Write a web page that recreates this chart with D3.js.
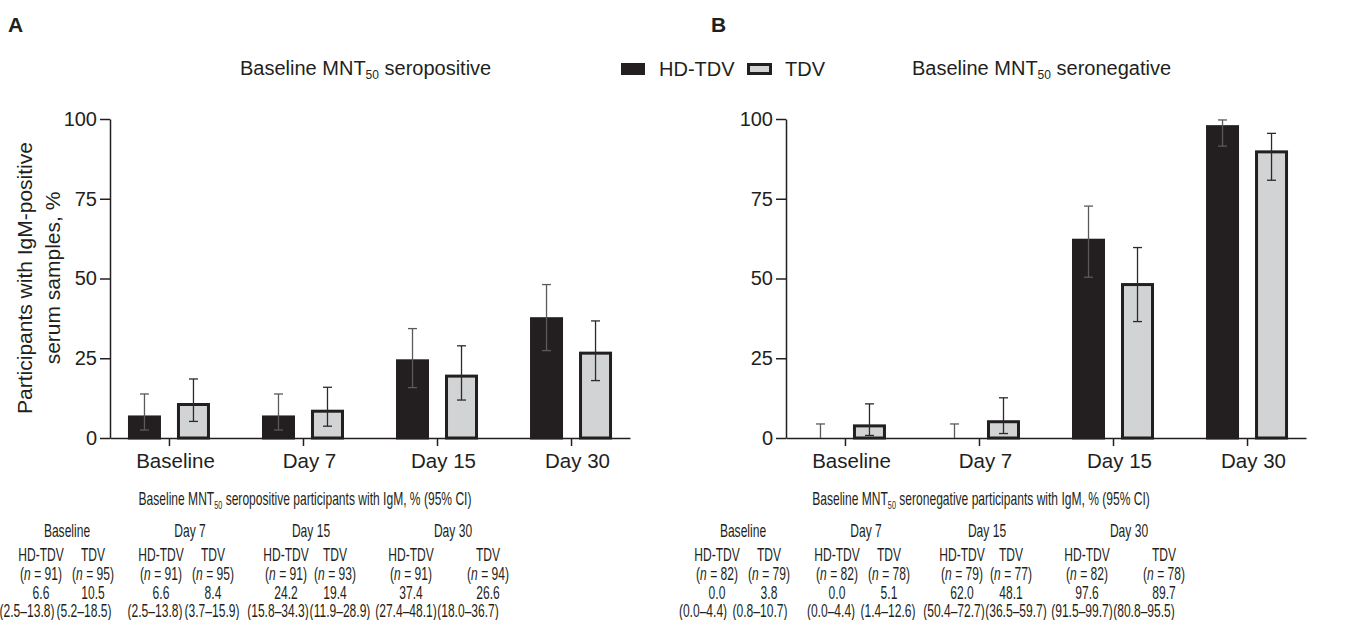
<!DOCTYPE html>
<html>
<head>
<meta charset="utf-8">
<script src="https://cdn.jsdelivr.net/npm/d3@7/dist/d3.min.js"></script>
<style>
  body { margin: 0; background: #fff; }
  svg { font-family: "Liberation Sans", Arial, sans-serif; fill: #231f20; }
  .axis path, .axis line { stroke: #231f20; stroke-width: 1.5; }
  .axis text { font-size: 20px; fill: #231f20; }
</style>
</head>
<body>
<script>
var categories = ["Baseline", "Day 7", "Day 15", "Day 30"];
var yTicks = [0, 25, 50, 75, 100];

// seropositive panel (A)
var posHD = [6.6, 6.6, 24.2, 37.4];
var posHDLow = [2.5, 2.5, 15.8, 27.4];
var posHDHigh = [13.8, 13.8, 34.3, 48.1];
var posHDn = [91, 91, 91, 91];
var posTDV = [10.5, 8.4, 19.4, 26.6];
var posTDVLow = [5.2, 3.7, 11.9, 18.0];
var posTDVHigh = [18.5, 15.9, 28.9, 36.7];
var posTDVn = [95, 95, 93, 94];

// seronegative panel (B)
var negHD = [0.0, 0.0, 62.0, 97.6];
var negHDLow = [0.0, 0.0, 50.4, 91.5];
var negHDHigh = [4.4, 4.4, 72.7, 99.7];
var negHDn = [82, 82, 79, 82];
var negTDV = [3.8, 5.1, 48.1, 89.7];
var negTDVLow = [0.8, 1.4, 36.5, 80.8];
var negTDVHigh = [10.7, 12.6, 59.7, 95.5];
var negTDVn = [79, 78, 77, 78];

var svgWidth = 1359;
var svgHeight = 620;
var ink = "#231f20";
var grey = "#d1d3d4";

var svg = d3.select("body")
  .append("svg")
  .attr("width", svgWidth)
  .attr("height", svgHeight);

var plotW = 520;
var yScale = d3.scaleLinear().domain([0, 100]).range([438, 119]);
var xScale = d3.scalePoint().domain(categories).range([0, plotW]).padding(0.44);

var barW = 30;     // inner width, stroke adds to 33
var barShift = 24.5;

function fmt(v) { return v.toFixed(1); }

function drawPanel(x0, hd, hdLo, hdHi, tdv, tdvLo, tdvHi, showYLabel) {
  var g = svg.append("g").attr("transform", `translate(${x0}, 0)`);

  // axes
  g.append("g")
    .attr("class", "axis")
    .call(d3.axisLeft(yScale).tickValues(yTicks).tickSize(10).tickSizeOuter(0).tickPadding(3));

  g.append("g")
    .attr("class", "axis")
    .attr("transform", `translate(0, ${yScale(0)})`)
    .call(d3.axisBottom(xScale).tickSize(8).tickSizeOuter(0).tickPadding(7))
    .selectAll("text")
    .attr("dx", 6)
    .style("font-size", "20.5px");

  var rows = categories.map(function(c, i) {
    return { cat: c, hd: hd[i], hdLo: hdLo[i], hdHi: hdHi[i], tdv: tdv[i], tdvLo: tdvLo[i], tdvHi: tdvHi[i] };
  });

  // HD-TDV bars
  g.selectAll(".hd-bar")
    .data(rows)
    .enter()
    .append("rect")
    .attr("class", "hd-bar")
    .attr("x", d => xScale(d.cat) - barShift - barW / 2)
    .attr("y", d => yScale(d.hd))
    .attr("width", barW)
    .attr("height", d => yScale(0) - yScale(d.hd))
    .attr("fill", ink)
    .attr("stroke", d => d.hd > 0 ? ink : "none")
    .attr("stroke-width", 3);

  // TDV bars
  g.selectAll(".tdv-bar")
    .data(rows)
    .enter()
    .append("rect")
    .attr("class", "tdv-bar")
    .attr("x", d => xScale(d.cat) + barShift - barW / 2)
    .attr("y", d => yScale(d.tdv))
    .attr("width", barW)
    .attr("height", d => yScale(0) - yScale(d.tdv))
    .attr("fill", grey)
    .attr("stroke", ink)
    .attr("stroke-width", 3);

  // error bars
  function errorBars(cls, shift, lo, hi, colour) {
    var eb = g.selectAll("." + cls)
      .data(rows)
      .enter()
      .append("g")
      .attr("class", cls)
      .attr("stroke", colour)
      .attr("stroke-width", 1.3);
    eb.append("line")
      .attr("x1", d => xScale(d.cat) + shift)
      .attr("x2", d => xScale(d.cat) + shift)
      .attr("y1", d => yScale(d[lo]))
      .attr("y2", d => yScale(d[hi]));
    eb.append("line")
      .attr("x1", d => xScale(d.cat) + shift - 4.5)
      .attr("x2", d => xScale(d.cat) + shift + 4.5)
      .attr("y1", d => yScale(d[hi]))
      .attr("y2", d => yScale(d[hi]));
    eb.filter(d => d[lo] > 0).append("line")
      .attr("x1", d => xScale(d.cat) + shift - 4.5)
      .attr("x2", d => xScale(d.cat) + shift + 4.5)
      .attr("y1", d => yScale(d[lo]))
      .attr("y2", d => yScale(d[lo]));
  }
  errorBars("hd-err", -barShift, "hdLo", "hdHi", "#5a5a5a");
  errorBars("tdv-err", barShift, "tdvLo", "tdvHi", "#2a2a2a");

  if (showYLabel) {
    var yl = svg.append("text")
      .attr("transform", "rotate(-90)")
      .attr("text-anchor", "middle")
      .style("font-size", "21px")
      .attr("fill", ink);
    yl.append("tspan").attr("x", -278).attr("y", 32).text("Participants with IgM-positive");
    yl.append("tspan").attr("x", -278).attr("y", 60).text("serum samples, %");
  }
}

drawPanel(110, posHD, posHDLow, posHDHigh, posTDV, posTDVLow, posTDVHigh, true);
drawPanel(786, negHD, negHDLow, negHDHigh, negTDV, negTDVLow, negTDVHigh, false);

// panel letters
svg.append("text").attr("x", 8).attr("y", 32).style("font-size", "21px").style("font-weight", "bold").attr("fill", ink).text("A");
svg.append("text").attr("x", 711).attr("y", 32).style("font-size", "21px").style("font-weight", "bold").attr("fill", ink).text("B");

// panel titles with MNT50 subscript
function subTitle(x, y, size, before, after, anchor, sx) {
  var t = svg.append("text")
    .attr("transform", `translate(${x}, ${y}) scale(${sx || 1}, 1)`)
    .attr("text-anchor", anchor || "start")
    .style("font-size", size + "px")
    .attr("fill", ink);
  t.append("tspan").text(before);
  t.append("tspan").attr("dy", size * 0.22).style("font-size", (size * 0.6) + "px").text("50");
  t.append("tspan").attr("dy", -size * 0.22).text(after);
  return t;
}
subTitle(240, 75, 20, "Baseline MNT", " seropositive");
subTitle(912, 75, 20, "Baseline MNT", " seronegative");

// legend
var legend = svg.append("g");
legend.append("rect").attr("x", 621).attr("y", 63).attr("width", 24).attr("height", 12).attr("fill", ink);
legend.append("text").attr("x", 659).attr("y", 76).style("font-size", "20px").attr("fill", ink).text("HD-TDV");
legend.append("rect").attr("x", 748.5).attr("y", 64.5).attr("width", 22).attr("height", 9).attr("fill", grey).attr("stroke", ink).attr("stroke-width", 3);
legend.append("text").attr("x", 785).attr("y", 76).style("font-size", "20px").attr("fill", ink).text("TDV");

// tables underneath
var tableSX = 0.67;
var tableFont = 18;
var groupX = [67, 190, 311, 453];
var hdColX = [41, 161, 286, 411];
var tdvColX = [93, 213, 335, 488];
var hdCiX = [27, 155, 278, 406];
var tdvCiX = [84, 212, 340, 468];
var rowY = { title: 505, group: 537, arm: 561, n: 580, value: 599, ci: 617 };

function cell(x, y, str) {
  return svg.append("text")
    .attr("transform", `translate(${x}, ${y}) scale(${tableSX}, 1)`)
    .attr("text-anchor", "middle")
    .style("font-size", tableFont + "px")
    .attr("fill", ink)
    .text(str);
}
function nCell(x, y, n) {
  var t = svg.append("text")
    .attr("transform", `translate(${x}, ${y}) scale(${tableSX}, 1)`)
    .attr("text-anchor", "middle")
    .style("font-size", tableFont + "px")
    .attr("fill", ink);
  t.append("tspan").text("(");
  t.append("tspan").style("font-style", "italic").text("n");
  t.append("tspan").text(" = " + n + ")");
}

function drawTable(dx, label, hd, hdLo, hdHi, hdN, tdv, tdvLo, tdvHi, tdvN) {
  subTitle(dx + 305, rowY.title, tableFont, "Baseline MNT", " " + label + " participants with IgM, % (95% CI)", "middle", tableSX);
  categories.forEach(function(c, i) {
    cell(dx + groupX[i], rowY.group, c);
    cell(dx + hdColX[i], rowY.arm, "HD-TDV");
    cell(dx + tdvColX[i], rowY.arm, "TDV");
    nCell(dx + hdColX[i], rowY.n, hdN[i]);
    nCell(dx + tdvColX[i], rowY.n, tdvN[i]);
    cell(dx + hdColX[i], rowY.value, fmt(hd[i]));
    cell(dx + tdvColX[i], rowY.value, fmt(tdv[i]));
    cell(dx + hdCiX[i], rowY.ci, "(" + fmt(hdLo[i]) + "\u2013" + fmt(hdHi[i]) + ")");
    cell(dx + tdvCiX[i], rowY.ci, "(" + fmt(tdvLo[i]) + "\u2013" + fmt(tdvHi[i]) + ")");
  });
}

drawTable(0, "seropositive", posHD, posHDLow, posHDHigh, posHDn, posTDV, posTDVLow, posTDVHigh, posTDVn);
drawTable(676, "seronegative", negHD, negHDLow, negHDHigh, negHDn, negTDV, negTDVLow, negTDVHigh, negTDVn);
</script>
</body>
</html>
